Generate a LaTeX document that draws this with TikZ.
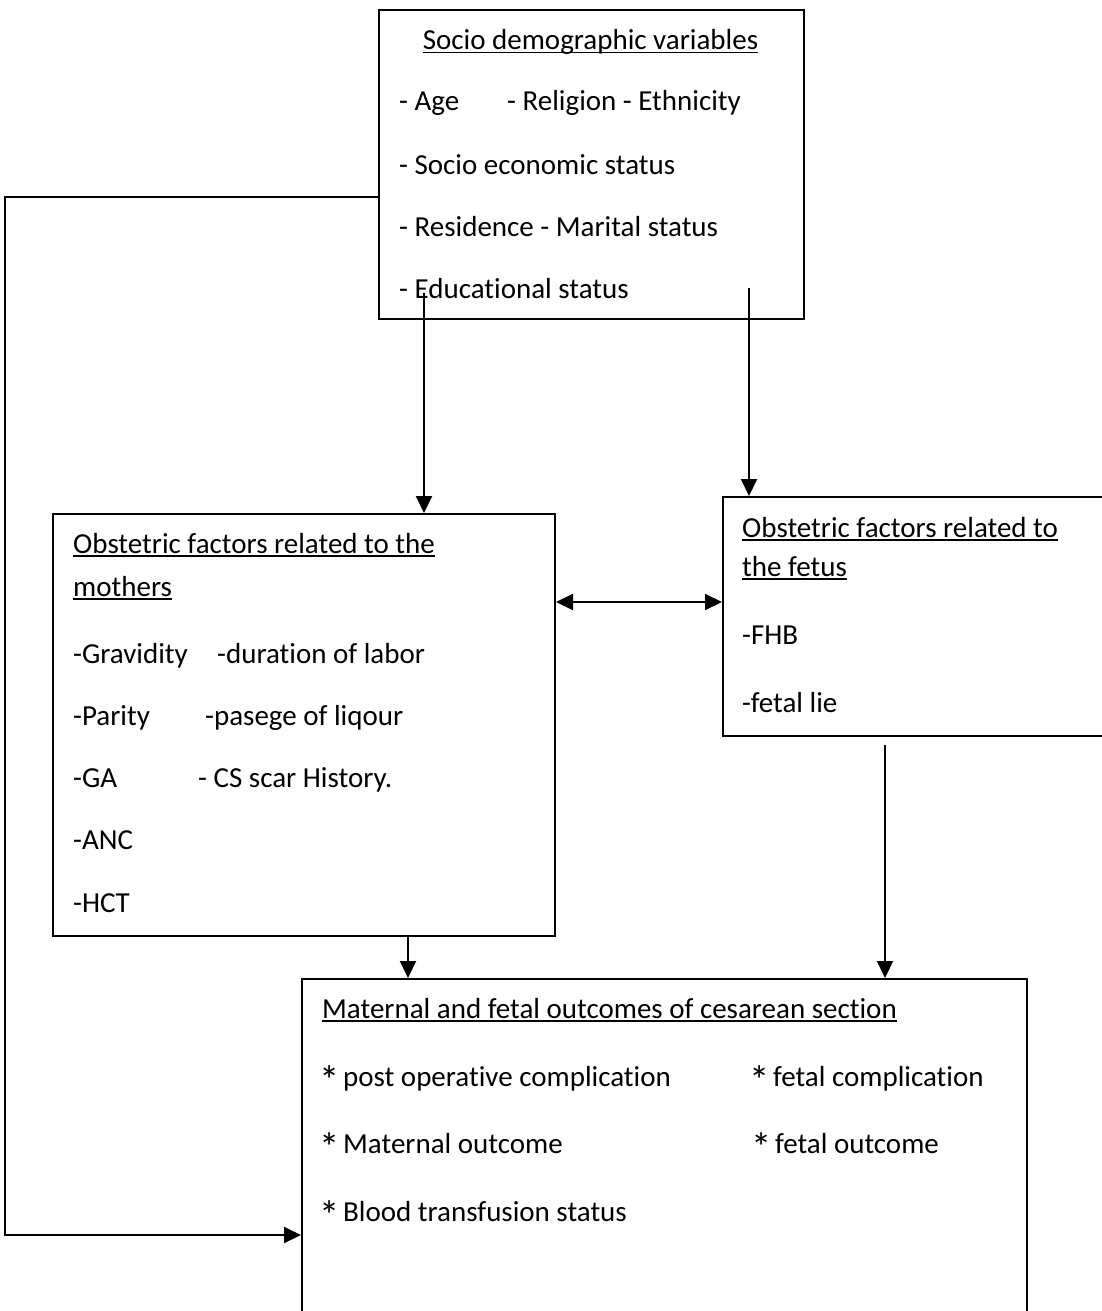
\documentclass[tikz,border=0pt]{standalone}
\usepackage{fontspec}
\setmainfont{Carlito}[Ligatures=NoCommon,RawFeature={-liga;-clig;-calt;-dlig}]
\usetikzlibrary{arrows.meta,calc}
\newsavebox\ulbox
\newsavebox\astbox
\newcommand\myul[1]{\sbox\ulbox{#1}\rlap{\rule[-3.5pt]{\wd\ulbox}{1.6pt}}\usebox\ulbox}
\newcommand\myast{\sbox\astbox{*}\makebox[\wd\astbox]{\raisebox{-8pt}{\scalebox{1.4}{*}}}}
\begin{document}
\begin{tikzpicture}[x=1pt,y=-1pt,
  box/.style={draw,line width=2pt,inner sep=0pt,anchor=north west},
  txt/.style={anchor=base west,inner sep=0pt,font=\fontsize{29}{35}\selectfont},
  arr/.style={line width=2pt,-{Triangle[length=17pt,width=16pt]}},
  darr/.style={line width=2pt,{Triangle[length=17pt,width=16pt]}-{Triangle[length=17pt,width=16pt]}}]
\useasboundingbox (0,0) rectangle (1102,1311);
\clip (0,0) rectangle (1102,1311);
\fill[white] (0,0) rectangle (1102,1311);
% boxes
\node[box,minimum width=425pt,minimum height=309pt] (top) at (378,9) {};
\node[box,minimum width=502pt,minimum height=422pt] (mid) at (52,513) {};
\node[box,minimum width=400pt,minimum height=239pt] (fetus) at (722,496) {};
\node[box,minimum width=725pt,minimum height=360pt] (bot) at (301,978) {};
% top box texts
\node[txt,anchor=base] (t0) at (590.5,50) {\myul{Socio demographic variables}};
\node[txt] (t1) at (399,111) {- Age};
\node[txt] (t1b) at (507,111) {- Religion - Ethnicity};
\node[txt] (t2) at (399,174) {- Socio economic status};
\node[txt] (t3) at (399,236) {- Residence - Marital status};
\node[txt] (t4) at (399,298) {- Educational status};
% mothers box texts
\node[txt] (m0) at (73,553) {\myul{Obstetric factors related to the}};
\node[txt] (m0b) at (73,596) {\myul{mothers}};
\node[txt] (m1) at (73,663) {-Gravidity};
\node[txt] (m1b) at (217,663) {-duration of labor};
\node[txt] (m2) at (73,725) {-Parity};
\node[txt] (m2b) at (205,725) {-pasege of liqour};
\node[txt] (m3) at (73,787) {-GA};
\node[txt] (m3b) at (198,787) {- CS scar History.};
\node[txt] (m4) at (73,849) {-ANC};
\node[txt] (m5) at (73,912) {-HCT};
% fetus box texts
\node[txt] (f0) at (742,537) {\myul{Obstetric factors related to}};
\node[txt] (f0b) at (742,576) {\myul{the fetus}};
\node[txt] (f1) at (742,644) {-FHB};
\node[txt] (f2) at (742,712) {-fetal lie};
% bottom box texts
\node[txt] (b0) at (322,1018) {\myul{Maternal and fetal outcomes of cesarean section}};
\node[txt] (b1) at (322,1086) {\myast{} post operative complication};
\node[txt] (b1b) at (752,1086) {\myast{} fetal complication};
\node[txt] (b2) at (322,1153) {\myast{} Maternal outcome};
\node[txt] (b2b) at (754,1153) {\myast{} fetal outcome};
\node[txt] (b3) at (322,1221) {\myast{} Blood transfusion status};
% connectors
\coordinate (c1) at (424,293);
\coordinate (c2) at (749,288);
\coordinate (c3) at (5,197);
\coordinate (c4) at (5,1235);
\coordinate (c5) at (600,602);
\coordinate (c6) at (408,0);
\coordinate (c7) at (885,745);
\draw[arr] (c1) -- (c1 |- mid.north);
\draw[arr] (c2) -- (c2 |- fetus.north);
\draw[arr] (c3 -| top.west) -- (c3) -- (c4) -- (c4 -| bot.west);
\draw[darr] (c5 -| mid.east) -- (c5 -| fetus.west);
\draw[arr] (c6 |- mid.south) -- (c6 |- bot.north);
\draw[arr] (c7) -- (c7 |- bot.north);
\end{tikzpicture}
\end{document}
